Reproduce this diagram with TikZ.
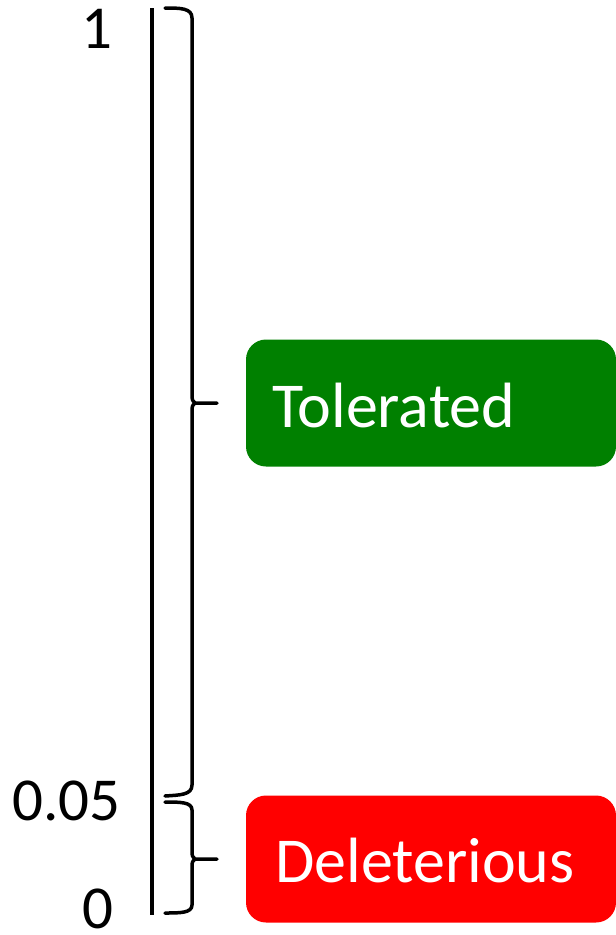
\documentclass[tikz,border=0pt]{standalone}
\usepackage{fontspec}
\setmainfont{Carlito}
\definecolor{tolgreen}{HTML}{008000}
\definecolor{delred}{HTML}{FF0000}
\begin{document}
\begin{tikzpicture}[x=1pt,y=-1pt,
  num/.style={inner sep=0pt,anchor=base east,font=\fontsize{61}{72}\selectfont},
  box/.style={rounded corners=20pt,minimum width=370pt,minimum height=127pt,inner sep=0pt,draw=none},
  lbl/.style={inner sep=0pt,anchor=base west,text=white,font=\fontsize{64}{76}\selectfont},
  ln/.style={line width=3.5pt,black},
  brace/.style={line width=3.5pt,black,line cap=round,line join=round}]
\useasboundingbox (0,0) rectangle (616,935);
% axis
\coordinate (axtop) at (152,8);
\coordinate (axbot) at (152,915);
\draw[ln] (axtop) -- (axbot);
% numbers
\node[num] (n1) at (113,48) {1};
\node[num] (n005) at (121,820) {0.05};
\node[num] (n0) at (114,928) {0};
% boxes
\node[box,fill=tolgreen] (tol) at (431,403) {};
\node[lbl] (toltxt) at (272,427) {Tolerated};
\node[box,fill=delred] (del) at (431,859) {};
\node[lbl] (deltxt) at (275,882) {Deleterious};
% top brace
\draw[brace] (165,8) .. controls (180,8) and (192,8) .. (192,18)
  -- (192,393) .. controls (192,400) .. (195,403) -- (217,403);
\draw[brace] (195,403) .. controls (192,406) .. (192,413)
  -- (192,785) .. controls (192,795) and (180,795) .. (165,796);
% bottom brace
\draw[brace] (165,802) .. controls (180,802) and (192,802) .. (192,810)
  -- (192,850) .. controls (192,856) .. (195,859) -- (217,859);
\draw[brace] (195,859) .. controls (192,862) .. (192,868)
  -- (192,905) .. controls (192,913) and (180,913) .. (165,913);
\end{tikzpicture}
\end{document}
